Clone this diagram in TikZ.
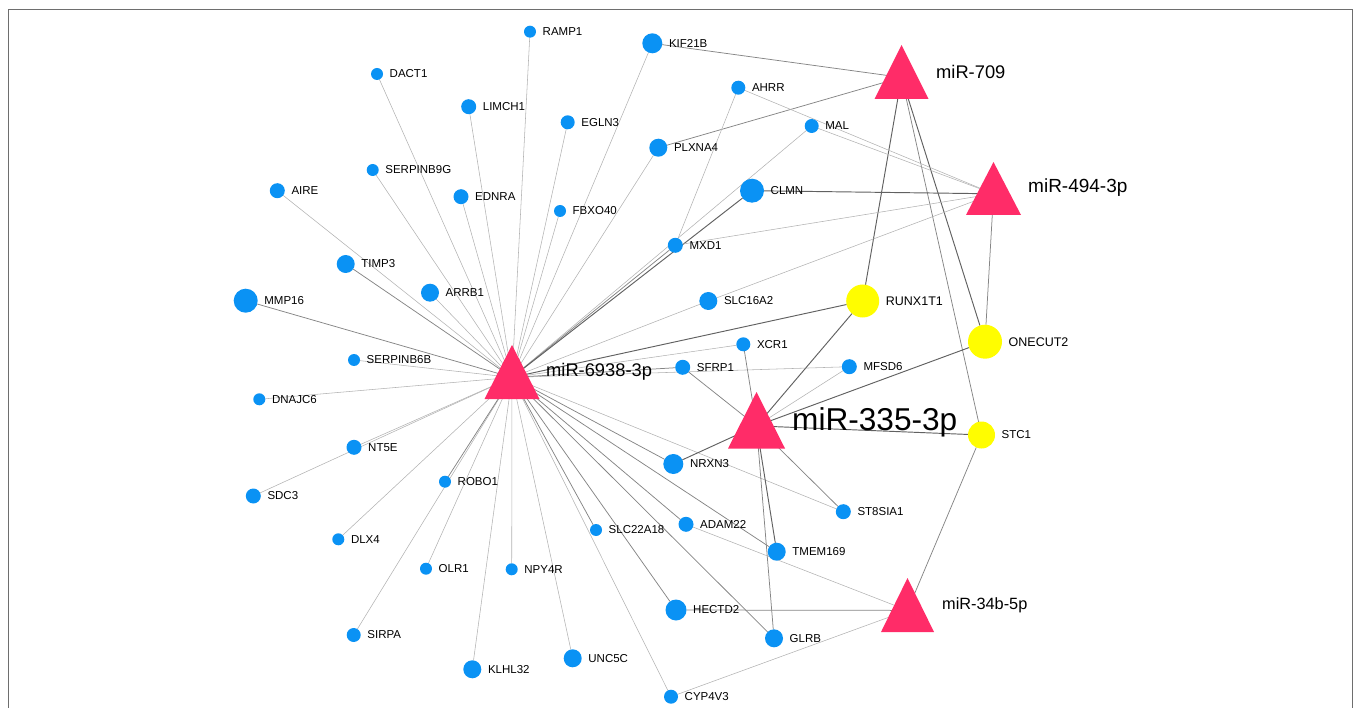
\documentclass[tikz,border=0pt]{standalone}
\usepackage{fontspec}
\setmainfont{Liberation Sans}
\usetikzlibrary{backgrounds}
\definecolor{geneblue}{RGB}{10,146,244}
\definecolor{mirpink}{RGB}{255,44,104}
\definecolor{tfyellow}{RGB}{255,253,0}
\definecolor{framegray}{RGB}{110,110,110}
\tikzset{
 gene/.style={circle, fill=geneblue, inner sep=0pt, outer sep=0pt, minimum size=#1},
 tf/.style={circle, fill=tfyellow, inner sep=0pt, outer sep=0pt, minimum size=#1},
 lbl/.style={font=\fontsize{11.5}{13}\selectfont, inner sep=0pt, text=black},
 tflbl/.style={font=\fontsize{12.5}{14}\selectfont, inner sep=0pt, text=black},
 mirlbl/.style={anchor=west, inner sep=0pt, font=\fontsize{#1}{#1}\selectfont},
 mirfill/.style={fill=mirpink},
 elight/.style={draw=black!30, line width=0.55pt},
 emid/.style={draw=black!48, line width=0.75pt},
 edark/.style={draw=black!62, line width=0.95pt},
}
\newcommand{\mirtri}[5]{%
 \coordinate (#1) at (#2,#3+0.6*#5);
 \fill[mirfill] (#2,#3) -- ++(#4,#5) -- ++(-2*#4,0) -- cycle;}
\begin{document}
\begin{tikzpicture}[x=1pt,y=-1pt,label distance=6.5pt]
\useasboundingbox (0,0) rectangle (1356,708);
\draw[framegray, line width=1.3pt] (8.5,708) -- (8.5,9.5) -- (1352.5,9.5) -- (1352.5,708);

% gene nodes
\node[gene=12, label={[lbl]right:RAMP1}] (RAMP1) at (530,31.7) {};
\node[gene=20, label={[lbl]right:KIF21B}] (KIF21B) at (652.3,43.3) {};
\node[gene=12, label={[lbl]right:DACT1}] (DACT1) at (377,74) {};
\node[gene=15, label={[lbl]right:LIMCH1}] (LIMCH1) at (468.7,106.7) {};
\node[gene=14, label={[lbl]right:EGLN3}] (EGLN3) at (567.7,122.3) {};
\node[gene=14, label={[lbl]right:AHRR}] (AHRR) at (738.3,87.7) {};
\node[gene=14, label={[lbl]right:MAL}] (MAL) at (811.7,126) {};
\node[gene=18, label={[lbl]right:PLXNA4}] (PLXNA4) at (658.3,147.7) {};
\node[gene=12, label={[lbl]right:SERPINB9G}] (SERPINB9G) at (372.7,170) {};
\node[gene=15, label={[lbl]right:AIRE}] (AIRE) at (277.3,190.7) {};
\node[gene=15, label={[lbl]right:EDNRA}] (EDNRA) at (461,196.7) {};
\node[gene=12, label={[lbl]right:FBXO40}] (FBXO40) at (560,211) {};
\node[gene=24, label={[lbl]right:CLMN}] (CLMN) at (752,190.7) {};
\node[gene=15, label={[lbl]right:MXD1}] (MXD1) at (675.3,245.3) {};
\node[gene=18, label={[lbl]right:TIMP3}] (TIMP3) at (345.7,264) {};
\node[gene=18, label={[lbl]right:ARRB1}] (ARRB1) at (430,292.7) {};
\node[gene=24, label={[lbl]right:MMP16}] (MMP16) at (245.7,300.7) {};
\node[gene=18, label={[lbl]right:SLC16A2}] (SLC16A2) at (708.3,301) {};
\node[gene=14, label={[lbl]right:XCR1}] (XCR1) at (743.3,344.3) {};
\node[gene=15, label={[lbl]right:SFRP1}] (SFRP1) at (682.7,367.3) {};
\node[gene=15, label={[lbl]right:MFSD6}] (MFSD6) at (849.3,366.7) {};
\node[gene=12, label={[lbl]right:SERPINB6B}] (SERPINB6B) at (354,360) {};
\node[gene=12, label={[lbl]right:DNAJC6}] (DNAJC6) at (259.3,399.3) {};
\node[gene=15, label={[lbl]right:NT5E}] (NT5E) at (354,447.3) {};
\node[gene=15, label={[lbl]right:SDC3}] (SDC3) at (253.3,496) {};
\node[gene=12, label={[lbl]right:ROBO1}] (ROBO1) at (445,481.7) {};
\node[gene=20, label={[lbl]right:NRXN3}] (NRXN3) at (673.3,464) {};
\node[gene=15, label={[lbl]right:ST8SIA1}] (ST8SIA1) at (843.3,511.7) {};
\node[gene=15, label={[lbl]right:ADAM22}] (ADAM22) at (686,524.3) {};
\node[gene=12, label={[lbl]right:SLC22A18}] (SLC22A18) at (596,530) {};
\node[gene=18, label={[lbl]right:TMEM169}] (TMEM169) at (776.7,551.7) {};
\node[gene=12, label={[lbl]right:DLX4}] (DLX4) at (338.3,539.3) {};
\node[gene=12, label={[lbl]right:OLR1}] (OLR1) at (426,568.7) {};
\node[gene=12, label={[lbl]right:NPY4R}] (NPY4R) at (511.7,569.3) {};
\node[gene=21, label={[lbl]right:HECTD2}] (HECTD2) at (676,610) {};
\node[gene=18, label={[lbl]right:GLRB}] (GLRB) at (774,638.3) {};
\node[gene=14, label={[lbl]right:SIRPA}] (SIRPA) at (353.7,635) {};
\node[gene=18, label={[lbl]right:UNC5C}] (UNC5C) at (572.7,658.3) {};
\node[gene=18, label={[lbl]right:KLHL32}] (KLHL32) at (472.3,669.3) {};
\node[gene=14, label={[lbl]right:CYP4V3}] (CYP4V3) at (671,696.7) {};

% yellow nodes
\node[tf=33, label={[tflbl]right:RUNX1T1}] (RUNX1T1) at (862.7,301) {};
\node[tf=34, label={[tflbl]right:ONECUT2}] (ONECUT2) at (985,341.7) {};
\node[tf=27, label={[lbl]right:STC1}] (STC1) at (981.5,435) {};

% miRNA triangles
\mirtri{m709}{901.5}{45}{27}{54}
\mirtri{m494}{993.5}{162}{27.5}{53}
\mirtri{h}{512}{345}{27.5}{54}
\mirtri{m335}{756.5}{392}{28.5}{56.5}
\mirtri{m34b}{907.5}{578}{26.5}{54}

\node[mirlbl=18.3] (l709) at (936,71.7) {miR-709};
\node[mirlbl=19] (l494) at (1028,188) {miR-494-3p};
\node[mirlbl=18.3] (lh) at (546,372) {miR-6938-3p};
\node[mirlbl=31.6] (l335) at (792,422) {miR-335-3p};
\node[mirlbl=16.3] (l34b) at (942,605) {miR-34b-5p};

\begin{scope}[on background layer]
% hub miR-6938-3p
\foreach \g in {RAMP1,KIF21B,DACT1,LIMCH1,EGLN3,PLXNA4,SERPINB9G,AIRE,EDNRA,FBXO40,MAL,ARRB1,SLC16A2,XCR1,MFSD6,SERPINB6B,DNAJC6,NT5E,SDC3,DLX4,OLR1,NPY4R,SIRPA,KLHL32,UNC5C,CYP4V3,ST8SIA1}
  \draw[elight] (h) -- (\g);
\foreach \g in {MXD1,TIMP3,MMP16,SFRP1,ROBO1,SLC22A18,HECTD2,GLRB,ADAM22,TMEM169,NRXN3}
  \draw[emid] (h) -- (\g);
\draw[edark] (h) -- (CLMN);
\draw[edark] (h) -- (RUNX1T1);
% miR-709
\draw[emid] (m709) -- (KIF21B);
\draw[emid] (m709) -- (PLXNA4);
\draw[edark] (m709) -- (RUNX1T1);
\draw[edark] (m709) -- (ONECUT2);
\draw[emid] (m709) -- (STC1);
% miR-494-3p
\draw[elight] (m494) -- (AHRR);
\draw[elight] (m494) -- (MAL);
\draw[edark] (m494) -- (CLMN);
\draw[elight] (m494) -- (MXD1);
\draw[elight] (m494) -- (SLC16A2);
\draw[emid] (m494) -- (ONECUT2);
% miR-335-3p
\draw[edark] (m335) -- (RUNX1T1);
\draw[edark] (m335) -- (ONECUT2);
\draw[edark] (m335) -- (STC1);
\draw[elight] (m335) -- (MFSD6);
\draw[emid] (m335) -- (XCR1);
\draw[emid] (m335) -- (SFRP1);
\draw[edark] (m335) -- (NRXN3);
\draw[edark] (m335) -- (TMEM169);
\draw[emid] (m335) -- (GLRB);
\draw[emid] (m335) -- (ST8SIA1);
% miR-34b-5p
\draw[emid] (m34b) -- (HECTD2);
\draw[elight] (m34b) -- (CYP4V3);
\draw[emid] (m34b) -- (STC1);
\draw[elight] (m34b) -- (ADAM22);
% other
\draw[elight] (AHRR) -- (MXD1);
\end{scope}
\end{tikzpicture}
\end{document}
